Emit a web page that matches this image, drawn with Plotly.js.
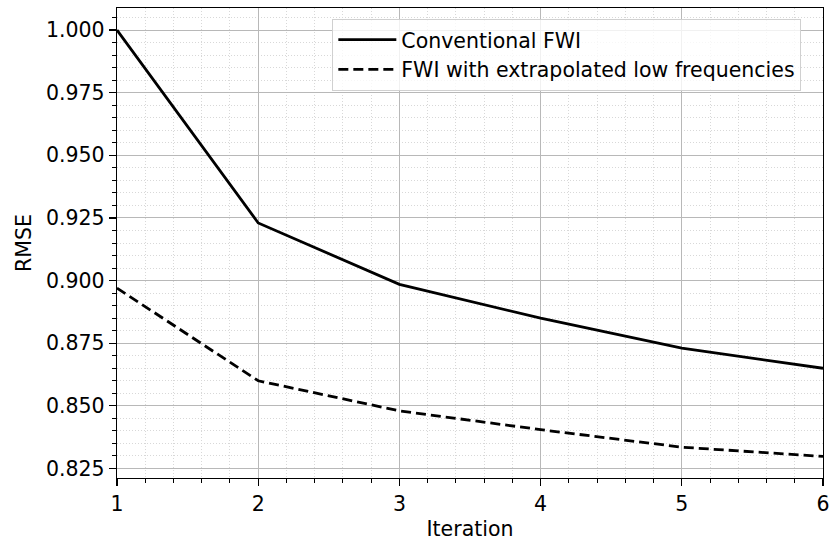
<!DOCTYPE html>
<html>
<head>
<meta charset="utf-8">
<script src="https://cdn.plot.ly/plotly-3.0.1.min.js"></script>
<style>html,body{margin:0;padding:0;background:#fff;}#chart{width:830px;height:541px;}</style>
</head>
<body>
<div id="chart"></div>
<script>
const iterations = [1, 2, 3, 4, 5, 6];
const conventionalFWI = [1.000, 0.923, 0.8985, 0.885, 0.873, 0.865];
const extrapolatedFWI = [0.897, 0.860, 0.848, 0.8405, 0.8335, 0.8298];
const seriesNames = ["Conventional FWI", "FWI with extrapolated low frequencies"];
const yTicks = [0.825, 0.850, 0.875, 0.900, 0.925, 0.950, 0.975, 1.000];

const font = {family: "DejaVu Sans, sans-serif", size: 20.5, color: "#000"};

const traces = [
  {x: iterations, y: conventionalFWI, name: seriesNames[0], mode: "lines",
   line: {color: "#000", width: 2.8}},
  {x: iterations, y: extrapolatedFWI, name: seriesNames[1], mode: "lines",
   line: {color: "#000", width: 2.8, dash: "10px,5px"}}
];

const axisCommon = {
  showline: true, mirror: true, linecolor: "#000", linewidth: 1.3,
  ticks: "outside", ticklen: 7, tickwidth: 1.2, tickcolor: "#000",
  showgrid: true, gridcolor: "#b8b8b8", gridwidth: 1,
  zeroline: false, tickfont: font
};

const layout = {
  width: 830, height: 541,
  margin: {l: 117, r: 7, t: 8, b: 63},
  paper_bgcolor: "#fff", plot_bgcolor: "#fff",
  font: font,
  showlegend: true,
  legend: {x: 0.305, y: 0.977, xanchor: "left", yanchor: "top",
           bgcolor: "rgba(255,255,255,0.8)", bordercolor: "#d0d0d0", borderwidth: 1,
           font: font, tracegroupgap: 0, itemwidth: 58},
  xaxis: Object.assign({}, axisCommon, {
    range: [1, 6], tickmode: "array", tickvals: iterations, ticktext: iterations.map(String),
    title: {text: "Iteration", font: font, standoff: 9},
    minor: {dtick: 0.2, ticklen: 4, tickwidth: 1, tickcolor: "#000", showgrid: true,
            gridcolor: "#d8d8d8", gridwidth: 1, griddash: "1px,2px"}
  }),
  yaxis: Object.assign({}, axisCommon, {
    range: [0.8212, 1.0088], tickmode: "array", tickvals: yTicks,
    ticktext: yTicks.map(v => v.toFixed(3)),
    title: {text: "RMSE", font: font, standoff: 8},
    minor: {dtick: 0.005, tick0: 0.825, ticklen: 4, tickwidth: 1, tickcolor: "#000", showgrid: true,
            gridcolor: "#d8d8d8", gridwidth: 1, griddash: "1px,2px"}
  })
};

Plotly.newPlot("chart", traces, layout, {staticPlot: true, displayModeBar: false});
</script>
</body>
</html>
